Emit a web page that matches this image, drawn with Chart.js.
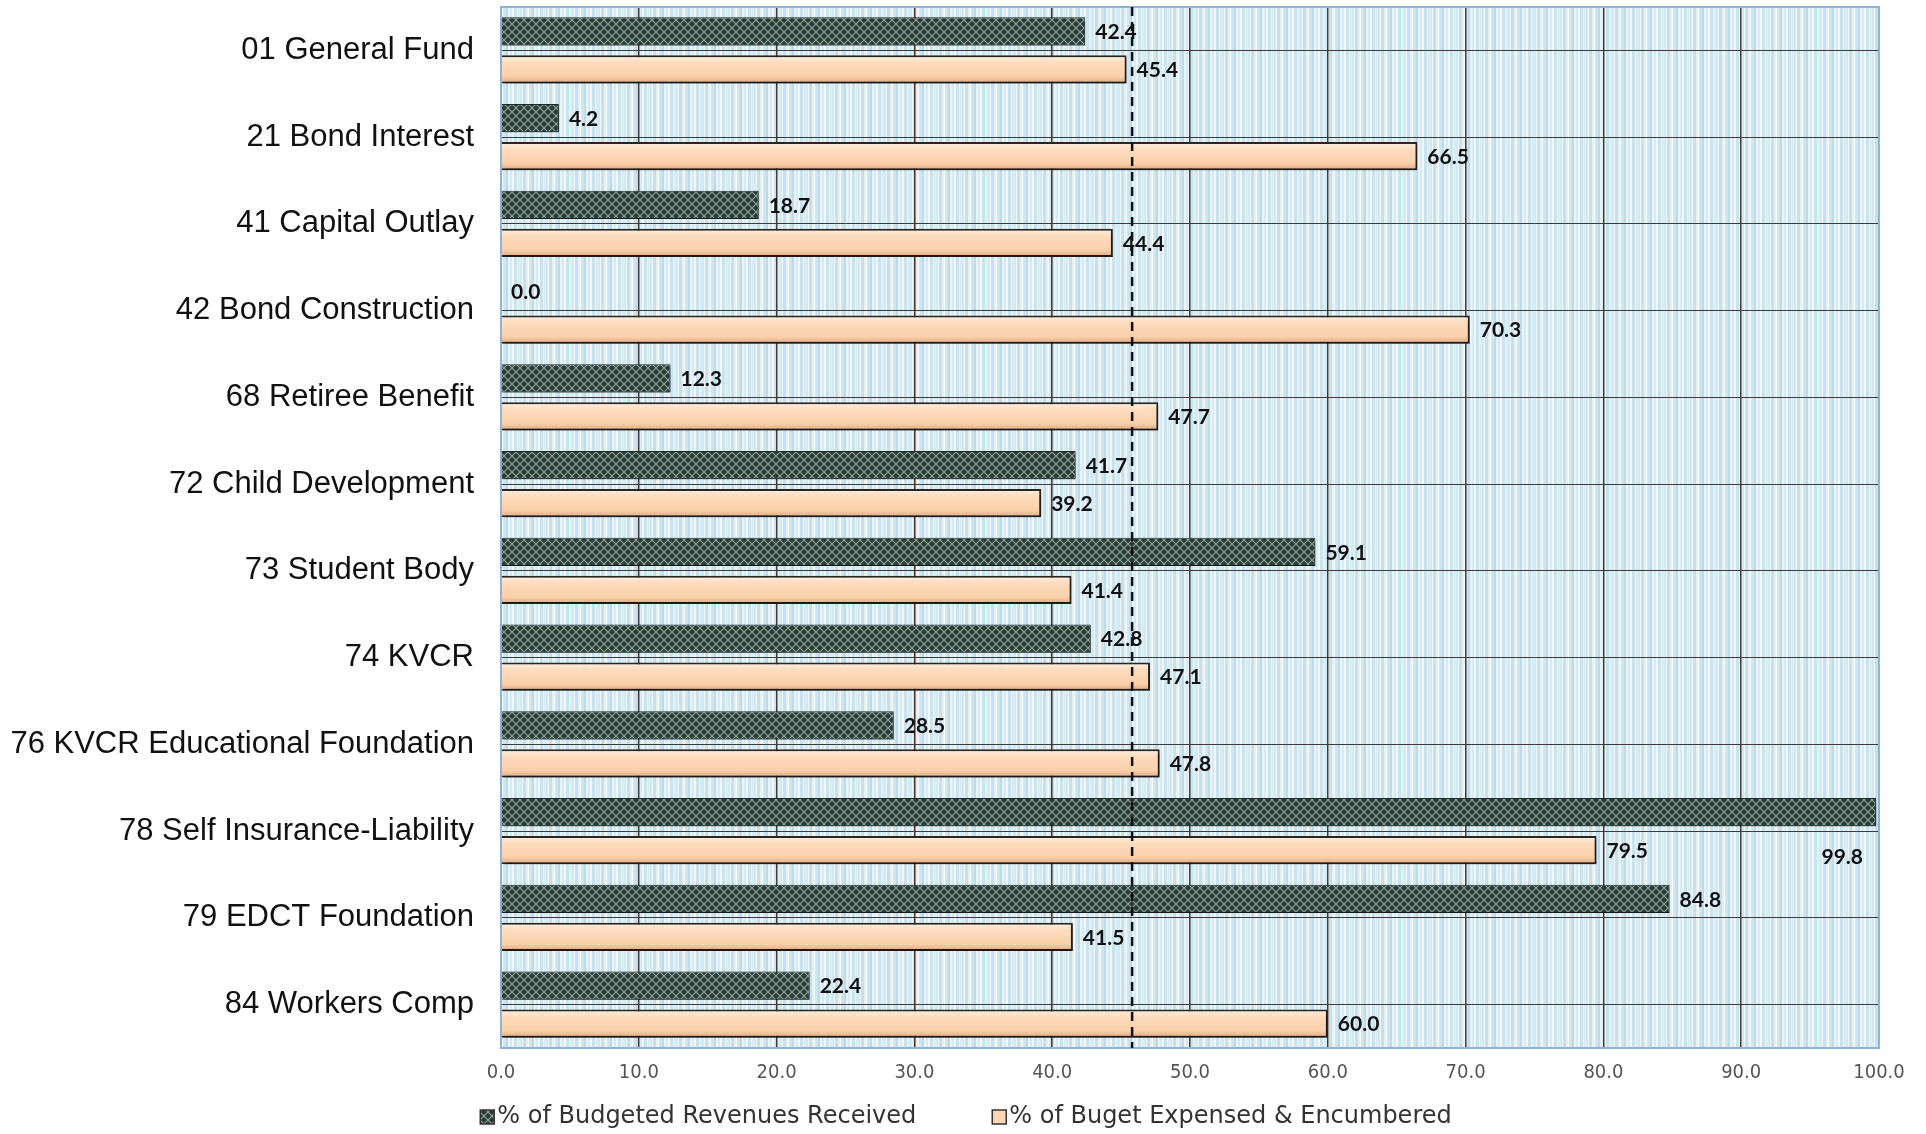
<!DOCTYPE html>
<html>
<head>
<meta charset="utf-8">
<script src="https://cdn.jsdelivr.net/npm/chart.js@4.4.1/dist/chart.umd.min.js"></script>
<style>
  html, body { margin: 0; padding: 0; background: #ffffff; }
  #wrap { width: 1926px; height: 1134px; }
</style>
</head>
<body>
<div id="wrap"><canvas id="c" width="1926" height="1134"></canvas></div>
<script>
// Fund categories and percentages
const funds = [
  '01 General Fund', '21 Bond Interest', '41 Capital Outlay', '42 Bond Construction',
  '68 Retiree Benefit', '72 Child Development', '73 Student Body', '74 KVCR',
  '76 KVCR Educational Foundation', '78 Self Insurance-Liability', '79 EDCT Foundation',
  '84 Workers Comp'
];
const revenuesReceived = [42.4, 4.2, 18.7, 0.0, 12.3, 41.7, 59.1, 42.8, 28.5, 99.8, 84.8, 22.4];
const budgetExpensed   = [45.4, 66.5, 44.4, 70.3, 47.7, 39.2, 41.4, 47.1, 47.8, 79.5, 41.5, 60.0];
const seriesNames = ['% of Budgeted Revenues Received', '% of Buget Expensed & Encumbered'];
const axisMin = 0, axisMax = 100, axisStep = 10;
const elapsedMark = 45.8;   // dashed benchmark line

const CAT_PCT = 0.88, BAR_PCT = 0.74;

// Cross-hatch fill for revenue bars
function meshPattern() {
  const p = document.createElement('canvas');
  p.width = 8; p.height = 8;
  const g = p.getContext('2d');
  g.fillStyle = '#2a3b35';
  g.fillRect(0, 0, 8, 8);
  g.strokeStyle = '#93a8a0';
  g.lineWidth = 1.1;
  g.beginPath();
  g.moveTo(0, 0); g.lineTo(8, 8);
  g.moveTo(8, 0); g.lineTo(0, 8);
  g.stroke();
  return g.createPattern(p, 'repeat');
}
// Irregular pinstripe fill for plot background
function stripePattern() {
  const bands = [[2,'#d3e9f3'],[1,'#f2f9fc'],[3,'#c6e1ee'],[2,'#e2f1f8'],[1,'#ffffff'],
                 [3,'#cde6f1'],[2,'#bddbea'],[2,'#e8f4f9'],[2,'#d6ebf4'],[2,'#f0f8fb'],
                 [3,'#c9e3ef'],[1,'#eaf5fa'],[2,'#d9edf5']];
  const total = bands.reduce((s, b) => s + b[0], 0);
  const p = document.createElement('canvas');
  p.width = total; p.height = 4;
  const g = p.getContext('2d');
  let x = 0;
  bands.forEach(([w, c]) => { g.fillStyle = c; g.fillRect(x, 0, w, 4); x += w; });
  return g.createPattern(p, 'repeat');
}
const mesh = meshPattern();
const stripes = stripePattern();

// Glossy peach fill, shaded per bar from the category scale
function peachFill(ctx) {
  const chart = ctx.chart;
  const y = chart.scales && chart.scales.y;
  const a = chart.chartArea;
  if (!y || !a || ctx.dataIndex === undefined) return '#fcd6b4';
  const cat = (a.bottom - a.top) / chart.data.labels.length;
  const slot = cat * CAT_PCT / 2;
  const center = y.getPixelForValue(ctx.dataIndex) + slot / 2;
  const h = slot * BAR_PCT;
  const g = chart.ctx.createLinearGradient(0, center - h / 2, 0, center + h / 2);
  g.addColorStop(0, '#fff1e2');
  g.addColorStop(0.25, '#fddcbf');
  g.addColorStop(0.75, '#fad0aa');
  g.addColorStop(1, '#dba67e');
  return g;
}

const plotBackground = {
  id: 'plotBackground',
  beforeDraw(chart) {
    const { ctx, chartArea: a } = chart;
    ctx.save();
    ctx.fillStyle = stripes;
    ctx.fillRect(a.left, a.top, a.width, a.height);
    ctx.restore();
  },
  beforeDatasetsDraw(chart) {
    const { ctx, chartArea: a } = chart;
    ctx.save();
    ctx.strokeStyle = '#8db2dc';
    ctx.lineWidth = 2;
    ctx.strokeRect(a.left, a.top, a.width, a.height);
    ctx.restore();
  }
};

const barShadow = {
  id: 'barShadow',
  beforeDatasetDraw(chart) {
    const ctx = chart.ctx;
    ctx.save();
    ctx.shadowColor = 'rgba(0,0,0,0.4)';
    ctx.shadowOffsetX = 2;
    ctx.shadowOffsetY = 3;
    ctx.shadowBlur = 3;
  },
  afterDatasetDraw(chart) {
    chart.ctx.restore();
  }
};

const valueLabels = {
  id: 'valueLabels',
  afterDatasetsDraw(chart) {
    const { ctx, chartArea: a } = chart;
    ctx.save();
    ctx.font = 'bold 21px Lato, "DejaVu Sans", sans-serif';
    ctx.fillStyle = '#111';
    ctx.textBaseline = 'middle';
    chart.data.datasets.forEach((ds, di) => {
      const meta = chart.getDatasetMeta(di);
      meta.data.forEach((bar, i) => {
        const txt = ds.data[i].toFixed(1);
        const w = ctx.measureText(txt).width;
        let x = bar.x + 10, y = bar.y + 1;
        ctx.textAlign = 'left';
        if (x + w > a.right - 4) {
          ctx.textAlign = 'right';
          x = a.right - 16;
          y = bar.y + bar.height * 1.6;
        }
        ctx.fillText(txt, x, y);
      });
    });
    // dashed benchmark line
    const xs = chart.scales.x.getPixelForValue(elapsedMark);
    ctx.strokeStyle = '#111';
    ctx.lineWidth = 2.5;
    ctx.setLineDash([9, 6]);
    ctx.beginPath();
    ctx.moveTo(xs, a.top);
    ctx.lineTo(xs, a.bottom);
    ctx.stroke();
    ctx.restore();
  }
};

const bottomLegend = {
  id: 'bottomLegend',
  afterDraw(chart) {
    const ctx = chart.ctx;
    ctx.save();
    ctx.font = '24px "DejaVu Sans", sans-serif';
    ctx.textBaseline = 'middle';
    const box = 14, boxGap = 3, itemGap = 76;
    const items = chart.data.datasets.map((d, i) => ({ text: d.label, fill: i === 0 ? mesh : '#fcd6b4' }));
    const widths = items.map(it => box + boxGap + ctx.measureText(it.text).width);
    const total = widths.reduce((s, w) => s + w, 0) + itemGap * (items.length - 1);
    let x = chart.width / 2 - total / 2 + 3;
    const y = 1117;
    items.forEach((it, i) => {
      ctx.fillStyle = it.fill;
      ctx.fillRect(x, y - box / 2, box, box);
      ctx.strokeStyle = '#333';
      ctx.lineWidth = 1.5;
      ctx.strokeRect(x, y - box / 2, box, box);
      ctx.fillStyle = '#333';
      ctx.textAlign = 'left';
      ctx.fillText(it.text, x + box + boxGap, y);
      x += widths[i] + itemGap;
    });
    ctx.restore();
  }
};

new Chart(document.getElementById('c'), {
  type: 'bar',
  data: {
    labels: funds,
    datasets: [
      {
        label: seriesNames[0],
        data: revenuesReceived,
        backgroundColor: mesh,
        borderColor: '#1d2a26',
        borderWidth: 1
      },
      {
        label: seriesNames[1],
        data: budgetExpensed,
        backgroundColor: peachFill,
        borderColor: '#2b2520',
        borderWidth: 2
      }
    ]
  },
  options: {
    indexAxis: 'y',
    responsive: false,
    animation: false,
    devicePixelRatio: 1,
    categoryPercentage: CAT_PCT,
    barPercentage: BAR_PCT,
    layout: { padding: { top: 7, right: 47, bottom: 40, left: 0 } },
    plugins: { legend: { display: false }, tooltip: { enabled: false } },
    scales: {
      x: {
        min: axisMin,
        max: axisMax,
        ticks: {
          stepSize: axisStep,
          padding: 13,
          color: '#555',
          font: { family: '"DejaVu Sans Condensed", "DejaVu Sans", sans-serif', size: 20 },
          callback: v => Number(v).toFixed(1)
        },
        grid: {
          drawTicks: false,
          color: ctx => (ctx.tick && (ctx.tick.value === axisMin || ctx.tick.value === axisMax)) ? 'rgba(0,0,0,0)' : '#463a32',
          lineWidth: 1.5
        },
        border: { display: false },
        afterFit: s => { s.height = 46; }
      },
      y: {
        ticks: {
          padding: 27,
          color: '#111',
          font: { family: '"Liberation Sans", Arial, sans-serif', size: 31 }
        },
        grid: { offset: false, drawTicks: false, color: '#3a3a3a', lineWidth: 1 },
        border: { display: false },
        afterFit: s => { s.width = 501; s.paddingTop = 0; s.paddingBottom = 0; }
      }
    }
  },
  plugins: [plotBackground, barShadow, valueLabels, bottomLegend]
});
</script>
</body>
</html>
